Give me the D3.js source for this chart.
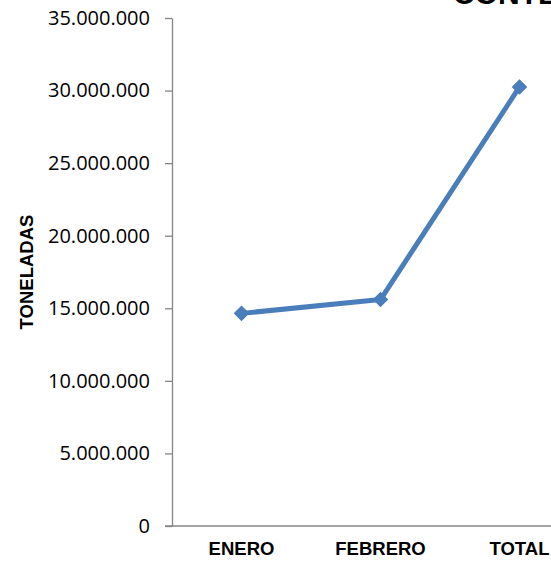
<!DOCTYPE html>
<html><head><meta charset="utf-8">
<script src="https://cdn.jsdelivr.net/npm/d3@7"></script>
<style>html,body{margin:0;padding:0;background:#fff;overflow:hidden}</style>
</head><body>
<script>
const categories = ["ENERO", "FEBRERO", "TOTAL"];
const values = [14650000, 15600000, 30250000];
const yTicks = [0, 5000000, 10000000, 15000000, 20000000, 25000000, 30000000, 35000000];
const titleText = "CONTENEDORES";
const yTitle = "TONELADAS";

const W = 551, H = 561;
const svg = d3.select("body").append("svg").attr("width", W).attr("height", H);

const x = d3.scaleBand().domain(categories).range([172, 589]);
const y = d3.scaleLinear().domain([0, 35000000]).range([526, 18]);
const fmt = v => d3.format(",")(v).replace(/,/g, ".");

// title (mostly clipped at the top, as in the reference)
svg.append("text").attr("x", 453).attr("y", 3.5)
  .attr("font-family", "Liberation Sans, Arial, sans-serif").attr("font-weight", "bold")
  .attr("font-size", 30).attr("fill", "#000").text(titleText);

// y axis
const yAxis = svg.append("g").attr("transform", "translate(172,0)")
  .call(d3.axisLeft(y).tickValues(yTicks).tickFormat(fmt).tickSize(7).tickSizeOuter(0).tickPadding(15));
yAxis.select(".domain").attr("stroke", "#868686").attr("stroke-width", 1.3);
yAxis.selectAll(".tick line").attr("stroke", "#868686").attr("stroke-width", 1.3);
yAxis.selectAll(".tick text").attr("font-family", "Open Sans, sans-serif").attr("font-size", 20).attr("fill", "#000");

// x axis
svg.append("line").attr("x1", 165).attr("x2", W).attr("y1", 526).attr("y2", 526)
  .attr("stroke", "#868686").attr("stroke-width", 1.3);
svg.append("g").selectAll("text").data(categories).join("text")
  .attr("x", d => x(d) + x.bandwidth() / 2).attr("y", 555)
  .attr("text-anchor", "middle")
  .attr("font-family", "Liberation Sans, Arial, sans-serif").attr("font-weight", "bold")
  .attr("font-size", 18.5).attr("fill", "#000").text(d => d);

// y title
svg.append("text").attr("transform", "translate(33,272) rotate(-90)")
  .attr("text-anchor", "middle")
  .attr("font-family", "Liberation Sans, Arial, sans-serif").attr("font-weight", "bold")
  .attr("font-size", 18.5).attr("fill", "#000").text(yTitle);

// line
const data = categories.map((c, i) => ({c, v: values[i]}));
const line = d3.line().x(d => x(d.c) + x.bandwidth() / 2).y(d => y(d.v));
svg.append("path").datum(data).attr("d", line)
  .attr("fill", "none").attr("stroke", "#4A7EBB").attr("stroke-width", 5)
  .attr("stroke-linejoin", "round");

svg.append("g").selectAll("path").data(data).join("path")
  .attr("d", d3.symbol(d3.symbolSquare, 100)())
  .attr("transform", d => `translate(${x(d.c) + x.bandwidth() / 2},${y(d.v)}) rotate(45)`)
  .attr("fill", "#4A7EBB").attr("stroke", "#4A7EBB").attr("stroke-width", 1);
</script>
</body></html>
